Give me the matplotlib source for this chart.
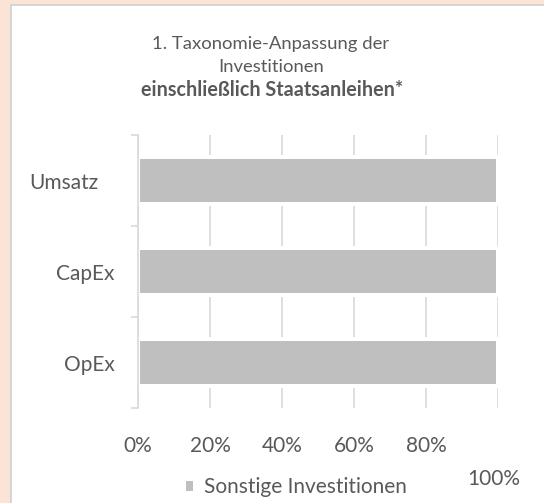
import matplotlib
matplotlib.use("Agg")
import matplotlib.pyplot as plt
from matplotlib.patches import Rectangle
from matplotlib.transforms import ScaledTranslation

categories = ["Umsatz", "CapEx", "OpEx"]
sonstige = [100, 100, 100]
x_ticks = [0, 20, 40, 60, 80, 100]
x_tick_labels = ["0%", "20%", "40%", "60%", "80%", "100%"]
legend_label = "Sonstige Investitionen"
title_lines = ["1. Taxonomie-Anpassung der", "Investitionen"]
title_bold = "einschließlich Staatsanleihen*"

TXT = "#595959"
BAR = "#BFBFBF"
GRID = "#D9D9D9"
PEACH = "#FBE4D5"
FS = 15

plt.rcParams['font.family'] = ['Lato', 'DejaVu Sans']

W, H = 544, 503
fig = plt.figure(figsize=(W / 100, H / 100), dpi=100)
fig.patch.set_facecolor(PEACH)

panel = Rectangle((10.5 / W, -0.05), 1.1, 1 - 4.5 / H + 0.05, transform=fig.transFigure,
                  facecolor="white", edgecolor="#D0D0D0", linewidth=1.2, zorder=-5)
fig.patches.append(panel)

ax = fig.add_axes([138 / W, 1 - 408 / H, (498 - 138) / W, (408 - 135) / H])
ax.set_zorder(2)
ax.set_facecolor("none")

ypos = list(range(len(categories)))
ax.barh(ypos, sonstige, height=0.51, color=BAR, edgecolor="white", linewidth=2.9,
        zorder=3, label=legend_label)
ax.set_xlim(0, 100)
ax.set_ylim(len(categories) - 0.5, -0.5)

ax.set_yticks(ypos)
ax.set_yticklabels(categories, fontsize=FS, color=TXT)
ax.set_yticks([-0.5, 0.5, 1.5, 2.5], minor=True)
ax.tick_params(axis='y', which='major', length=0, pad=17)
ax.tick_params(axis='y', which='minor', length=5, color=GRID, width=1.2)

ax.set_xticks(x_ticks)
ax.set_xticklabels(x_tick_labels, fontsize=FS, color=TXT, va='top')
ax.tick_params(axis='x', length=0, pad=20)
ax.xaxis.grid(True, color=GRID, linewidth=1.2, zorder=0)
ax.set_axisbelow(True)

for s in ["top", "right", "bottom"]:
    ax.spines[s].set_visible(False)
ax.spines["left"].set_color(GRID)
ax.spines["left"].set_linewidth(1.2)
ax.spines["left"].set_zorder(4)

# shift first category label slightly left
lab = ax.get_yticklabels()[0]
lab.set_transform(lab.get_transform() + ScaledTranslation(-16 / 100, 0, fig.dpi_scale_trans))
# last x label drops to a lower line, as in the reference
lab = ax.get_xticklabels()[-1]
lab.set_transform(lab.get_transform() + ScaledTranslation(-4 / 100, -33 / 100, fig.dpi_scale_trans))

fig.text(271 / W, 1 - 44 / H, title_lines[0], ha="center", va="center", fontsize=13.3, color=TXT)
fig.text(271 / W, 1 - 66.5 / H, title_lines[1], ha="center", va="center", fontsize=13.3, color=TXT)
fig.text(272 / W, 1 - 90 / H, title_bold, ha="center", va="center", fontsize=14.2,
         color=TXT, fontweight="bold")

leg = fig.legend(loc="center", bbox_to_anchor=(296 / W, 1 - 487 / H), frameon=False,
                 fontsize=FS, handlelength=0.36, handleheight=0.36, handletextpad=0.5,
                 labelcolor=TXT)
for h in leg.legend_handles:
    h.set_edgecolor("none")
leg.set_zorder(3)

fig.savefig("out.png", dpi=100, facecolor=fig.get_facecolor())
